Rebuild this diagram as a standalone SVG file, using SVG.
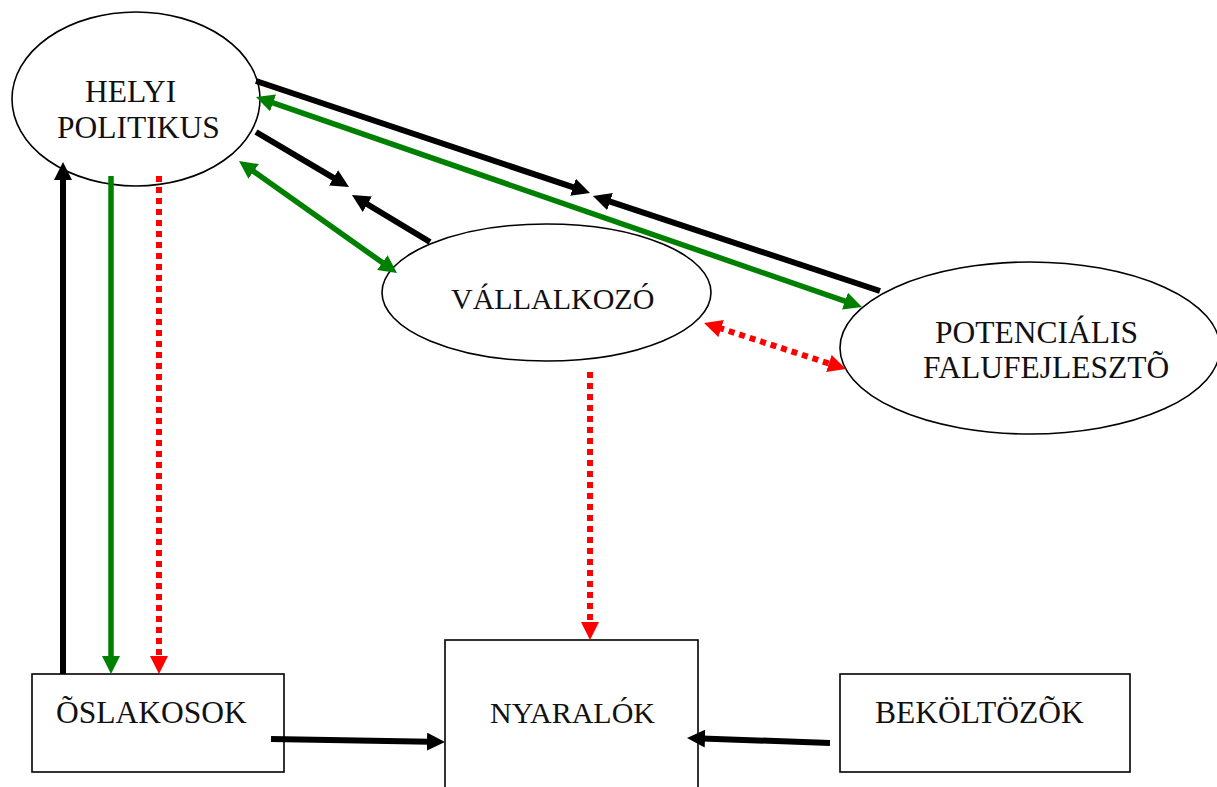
<svg xmlns="http://www.w3.org/2000/svg" width="1217" height="787" viewBox="0 0 1217 787">
<style>
.node{fill:#fff;stroke:#000;stroke-width:1.6}
.lbl{font-family:"Liberation Serif","Times New Roman",serif;font-size:31.5px;fill:#111}
.sm{font-size:30px}
.k{stroke:#000;stroke-width:6;fill:none}
.g{stroke:#008000;stroke-width:5.5;fill:none}
.r{stroke:#ff0000;stroke-width:6;fill:none;stroke-dasharray:6,5}
</style>
<defs>
<marker id="ak" markerUnits="userSpaceOnUse" markerWidth="18" markerHeight="18" viewBox="0 0 18 18" refX="3" refY="9" orient="auto-start-reverse"><path d="M0,0 L18,9 L0,18 z" fill="#000"/></marker>
<marker id="ag" markerUnits="userSpaceOnUse" markerWidth="18" markerHeight="18" viewBox="0 0 18 18" refX="3" refY="9" orient="auto-start-reverse"><path d="M0,0 L18,9 L0,18 z" fill="#008000"/></marker>
<marker id="ar" markerUnits="userSpaceOnUse" markerWidth="18" markerHeight="18" viewBox="0 0 18 18" refX="3" refY="9" orient="auto-start-reverse"><path d="M0,0 L18,9 L0,18 z" fill="#ff0000"/></marker>
</defs>
<rect width="1217" height="787" fill="#fff"/>
<g id="helyi-politikus">
<ellipse class="node" cx="136" cy="99" rx="124" ry="87"/>
<text class="lbl" x="85" y="102">HELYI</text>
<text class="lbl" x="57" y="138">POLITIKUS</text>
</g>
<g id="vallalkozo">
<ellipse class="node" cx="546.5" cy="292.5" rx="164.5" ry="68.5"/>
<text class="lbl sm" x="451" y="309">VÁLLALKOZÓ</text>
</g>
<g id="potencialis-falufejleszto">
<ellipse class="node" cx="1030" cy="348" rx="190" ry="86"/>
<text class="lbl" x="935" y="343">POTENCIÁLIS</text>
<text class="lbl" x="923" y="378">FALUFEJLESZTÕ</text>
</g>
<g id="oslakosok">
<rect class="node" x="32" y="674" width="252" height="98"/>
<text class="lbl" x="56" y="723">ÕSLAKOSOK</text>
</g>
<g id="nyaralok">
<rect class="node" x="445" y="640" width="253" height="160"/>
<text class="lbl sm" x="490" y="723">NYARALÓK</text>
</g>
<g id="bekoltozok">
<rect class="node" x="840" y="674" width="290" height="98"/>
<text class="lbl" x="875" y="723">BEKÖLTÖZÕK</text>
</g>
<g id="connectors">
<line class="k" x1="63" y1="674" x2="63" y2="177" marker-end="url(#ak)"/>
<line class="g" x1="111" y1="176" x2="111" y2="659" marker-end="url(#ag)"/>
<line class="r" x1="159" y1="176" x2="159" y2="659" marker-end="url(#ar)"/>
<line class="k" x1="271" y1="739" x2="430" y2="741.7" marker-end="url(#ak)"/>
<line class="k" x1="830" y1="743" x2="702" y2="738.5" marker-end="url(#ak)"/>
<line class="r" x1="590" y1="372" x2="590" y2="625" marker-end="url(#ar)"/>
<line class="k" x1="256" y1="81" x2="575.8" y2="188.2" marker-end="url(#ak)"/>
<line class="k" x1="880" y1="291" x2="607.2" y2="200.7" marker-end="url(#ak)"/>
<line class="g" x1="270.2" y1="101.9" x2="847.8" y2="302.1" marker-start="url(#ag)" marker-end="url(#ag)"/>
<line class="k" x1="256" y1="132" x2="336.1" y2="179.4" marker-end="url(#ak)"/>
<line class="k" x1="430" y1="242" x2="364.8" y2="202.7" marker-end="url(#ak)"/>
<line class="g" x1="251.2" y1="169.7" x2="384.8" y2="264.3" marker-start="url(#ag)" marker-end="url(#ag)"/>
<line class="r" x1="718.3" y1="327.6" x2="831.7" y2="364.4" marker-start="url(#ar)" marker-end="url(#ar)"/>
</g>
</svg>
